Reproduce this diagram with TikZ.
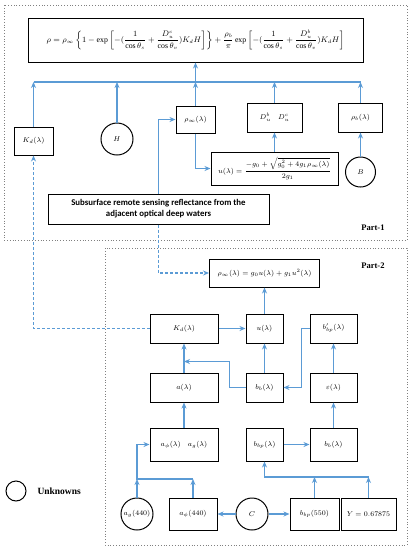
\documentclass[tikz,border=0pt]{standalone}
\usepackage{amsmath}
\usepackage{fontspec}
\setmainfont{Liberation Serif}
\newfontfamily\labelfont{Carlito}
\usetikzlibrary{arrows.meta}
\definecolor{flowblue}{RGB}{91,155,213}

\begin{document}
\begin{tikzpicture}[x=1pt, y=-1pt,
    box/.style={draw, line width=1pt, inner sep=1pt, align=center,
                font=\fontsize{7}{8}\selectfont},
    unk/.style={draw, circle, line width=1pt, inner sep=0pt,
                minimum size=32pt, font=\fontsize{7}{8}\selectfont},
    flow/.style={-{Stealth[length=6pt, width=5pt]}, line width=1.1pt, flowblue},
    dflow/.style={flow, dashed, dash pattern=on 3pt off 2pt},
    frame/.style={draw=gray, dotted, line width=0.8pt},
    part/.style={font=\bfseries\fontsize{8.5}{10}\selectfont},
]
    \useasboundingbox (0,0) rectangle (412,550);
    \draw[frame] (4,5) rectangle (407,240);
    \draw[frame] (105,248) rectangle (407,545);
    \node[part] (part1) at (373,228) {Part-1};
    \node[part] (part2) at (373,266) {Part-2};

    % Part-1
    \node[box, minimum width=335pt, minimum height=44pt,
          font=\fontsize{7.8}{9}\selectfont] (model) at (195.5,40)
        {$\rho=\rho_\infty\left\{1-\exp\left[-(\dfrac{1}{\cos\theta_s}+\dfrac{D_u^c}{\cos\theta_v})K_dH\right]\right\}+\dfrac{\rho_b}{\pi}\exp\left[-(\dfrac{1}{\cos\theta_s}+\dfrac{D_u^b}{\cos\theta_v})K_dH\right]$};
    \node[box, minimum width=39pt, minimum height=28pt] (kdtop) at (33.5,141) {$K_d(\lambda)$};
    \node[unk] (depth) at (117,139) {$H$};
    \node[box, minimum width=39pt, minimum height=27pt] (rhodeep) at (195.5,119.5) {$\rho_\infty(\lambda)$};
    \node[box, minimum width=55pt, minimum height=29pt] (dist) at (274.5,117.5) {$D_u^b\quad D_u^c$};
    \node[box, minimum width=44pt, minimum height=29pt] (rhobot) at (360.5,117.5) {$\rho_b(\lambda)$};
    \node[box, minimum width=127pt, minimum height=33pt] (uform) at (274.5,168.5)
        {$u(\lambda)=\dfrac{-g_0+\sqrt{g_0^2+4g_1\rho_\infty(\lambda)}}{2g_1}$};
    \node[unk, minimum size=30pt] (bot) at (360.5,172) {$B$};
    \node[box, minimum width=221pt, minimum height=30pt, inner sep=2pt,
          font=\labelfont\bfseries\fontsize{8.8}{11}\selectfont] (subsurf) at (158.5,209)
        {Subsurface remote sensing reflectance from the\\adjacent optical deep waters};

    \coordinate (busL) at (33.5,82);
    \coordinate (busR) at (360.5,82);
    \draw[flow, -] (busL) -- (busR);
    \draw[flow] (kdtop.north) -- (kdtop.north |- busL);
    \draw[flow] (depth.north) -- (depth.north |- busL);
    \draw[flow] (rhodeep.north) -- (rhodeep.north |- busL);
    \draw[flow] (dist.north) -- (dist.north |- busL);
    \draw[flow] (rhobot.north) -- (rhobot.north |- busL);
    \draw[flow] (rhodeep.north |- busL) -- (model.south);
    \draw[flow] (subsurf.north) |- (rhodeep.west);
    \draw[flow] (rhodeep.south) |- (uform.west);
    \draw[flow] (uform.north) -- (dist.south);
    \draw[flow] (bot.north) -- (rhobot.south);

    % Part-2
    \node[box, minimum width=110pt, minimum height=28pt] (rhoinv) at (264.5,273)
        {$\rho_\infty(\lambda)=g_0u(\lambda)+g_1u^2(\lambda)$};
    \node[box, minimum width=68pt, minimum height=29pt] (kdlow) at (184,328.5) {$K_d(\lambda)$};
    \node[box, minimum width=37pt, minimum height=29pt] (ulow) at (264.5,328.5) {$u(\lambda)$};
    \node[box, minimum width=47pt, minimum height=29pt] (bbpp) at (333.5,328.5) {$b_{bp}'(\lambda)$};
    \node[box, minimum width=68pt, minimum height=29pt] (atot) at (184,387.5) {$a(\lambda)$};
    \node[box, minimum width=37pt, minimum height=29pt] (bbtot) at (264.5,387.5) {$b_b(\lambda)$};
    \node[box, minimum width=47pt, minimum height=29pt] (eps) at (333.5,387.5) {$\varepsilon(\lambda)$};
    \node[box, minimum width=68pt, minimum height=33pt] (aphg) at (184,444.5) {$a_\phi(\lambda)\quad a_g(\lambda)$};
    \node[box, minimum width=37pt, minimum height=33pt] (bbp) at (264.5,444.5) {$b_{bp}(\lambda)$};
    \node[box, minimum width=47pt, minimum height=33pt] (bbtwo) at (333.5,444.5) {$b_b(\lambda)$};
    \node[unk] (ag) at (137,514) {$a_g(440)$};
    \node[box, minimum width=48pt, minimum height=32pt] (aph) at (193,514) {$a_\phi(440)$};
    \node[unk] (conc) at (252,514) {$C$};
    \node[box, minimum width=49pt, minimum height=32pt] (bbpref) at (314.5,514) {$b_{bp}(550)$};
    \node[box, minimum width=55pt, minimum height=32pt] (slope) at (368.5,514) {$Y=0.67875$};

    \draw[dflow] (subsurf.south) |- (rhoinv.west);
    \draw[dflow] (kdlow.west) -| (kdtop.south);
    \draw[flow] (ulow) -- (rhoinv);
    \draw[flow] (kdlow) -- (ulow);
    \draw[flow] (bbtot) -- (ulow);
    \draw[flow] (atot) -- (kdlow);
    \draw[flow] (bbtot.west) -- ++(-16,0) |- ([yshift=11pt]atot.north);
    \draw[flow] (bbpp.west) -- ++(-8,0) |- (bbtot.east);
    \draw[flow] (eps) -- (bbpp);
    \draw[flow] (bbtwo) -- (eps);
    \draw[flow] (bbp) -- (bbtwo);
    \draw[flow] (aphg) -- (atot);

    \coordinate (ajoin) at (137,479);
    \coordinate (bjoin) at (368.5,477);
    \draw[flow] (ag.north) -- (ajoin);
    \draw[flow] (aph.north) -- (aph.north |- ajoin);
    \draw[flow] (aph.north |- ajoin) -- (ajoin) |- (aphg.west);
    \draw[flow] (conc) -- (aph);
    \draw[flow] (conc) -- (bbpref);
    \draw[flow] (slope.north) -- (bjoin);
    \draw[flow] (bbpref.north) -- (bbpref.north |- bjoin);
    \draw[flow] (bjoin) -| (bbp.south);

    % legend
    \node[draw, circle, line width=1pt, minimum size=20pt] (legend) at (16,491) {};
    \node[part, anchor=west, font=\bfseries\fontsize{9.5}{11}\selectfont] (legendtext) at (34,491) {Unknowns};
\end{tikzpicture}
\end{document}
